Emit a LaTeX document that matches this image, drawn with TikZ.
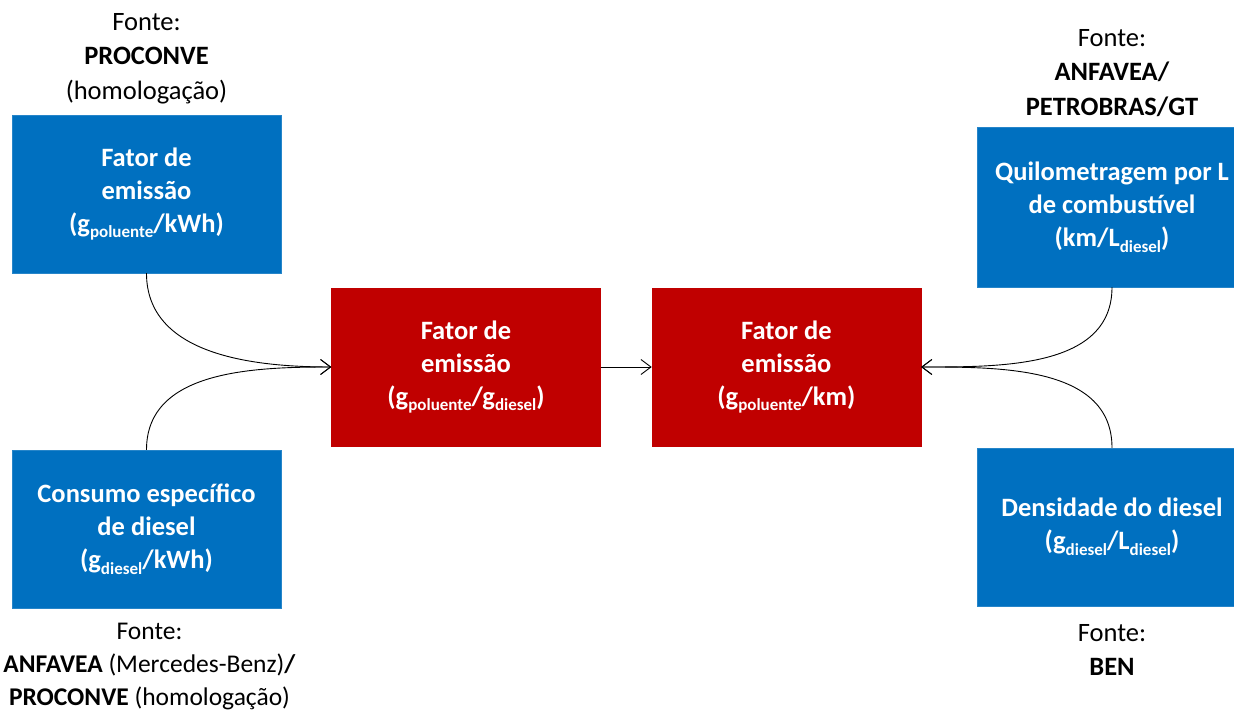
\documentclass[tikz,border=0pt]{standalone}
\usepackage{fontspec}
\setmainfont{Carlito}
\usepackage{xcolor}
\usepackage{tikz}
\usetikzlibrary{positioning,arrows.meta}

\definecolor{boxblue}{RGB}{0,112,192}
\definecolor{boxred}{RGB}{192,0,0}
\newcommand{\lsub}[1]{\raisebox{-0.45ex}{\fontsize{17}{17}\selectfont #1}}

\tikzset{
  inbox/.style = {fill=boxblue, draw=boxblue!85!white, text=white,
    font=\fontsize{26.5}{33}\selectfont\bfseries, align=center,
    minimum width=269pt, minimum height=158pt, inner sep=0pt},
  outbox/.style = {inbox, fill=boxred, draw=boxred},
  fonte/.style = {font=\fontsize{26.5}{34.5}\selectfont, align=center, inner sep=0pt},
  flow/.style = {-{Straight Barb[length=10pt, width=15pt, line width=0.9pt]}, line width=0.9pt},
}

\begin{document}
\begin{tikzpicture}[x=1pt, y=1pt]
  \useasboundingbox (0,0) rectangle (1234,711);

  \node[inbox] (fek) at (146.5,517) {Fator de\\emissão\\(g\lsub{poluente}/kWh)};
  \node[inbox] (cons) at (146.5,182) {Consumo específico\\de diesel\\(g\lsub{diesel}/kWh)};

  \node[outbox] (fed) at (466,344) {Fator de\\emissão\\(g\lsub{poluente}/g\lsub{diesel})};
  \node[outbox, right=51pt of fed] (fkm) {Fator de\\emissão\\(g\lsub{poluente}/km)};

  \node[inbox, minimum height=160pt] (kml) at (1112,504) {Quilometragem por L\\de combustível\\(km/L\lsub{diesel})};
  \node[inbox] (dens) at (1112,184) {Densidade do diesel\\(g\lsub{diesel}/L\lsub{diesel})};

  \node[fonte, above=11pt of fek] (sfek) {Fonte:\\\textbf{PROCONVE}\\(homologação)};
  \node[fonte, below=15pt of cons, xshift=3pt, font=\fontsize{25.5}{33}\selectfont] (scons) {Fonte:\\\textbf{ANFAVEA} (Mercedes-Benz)\textbf{/}\\\textbf{PROCONVE} (homologação)};
  \node[fonte, above=10pt of kml] (skml) {Fonte:\\\textbf{ANFAVEA/}\\\textbf{PETROBRAS/GT}};
  \node[fonte, below=18pt of dens] (sdens) {Fonte:\\\textbf{BEN}};

  \draw[flow] (fek.south) to[out=-90, in=180] (fed.west);
  \draw[flow] (cons.north) to[out=90, in=180] (fed.west);
  \draw[flow] (fed) -- (fkm);
  \draw[flow] (kml.south) to[out=-90, in=0] (fkm.east);
  \draw[flow] (dens.north) to[out=90, in=0] (fkm.east);
\end{tikzpicture}
\end{document}
